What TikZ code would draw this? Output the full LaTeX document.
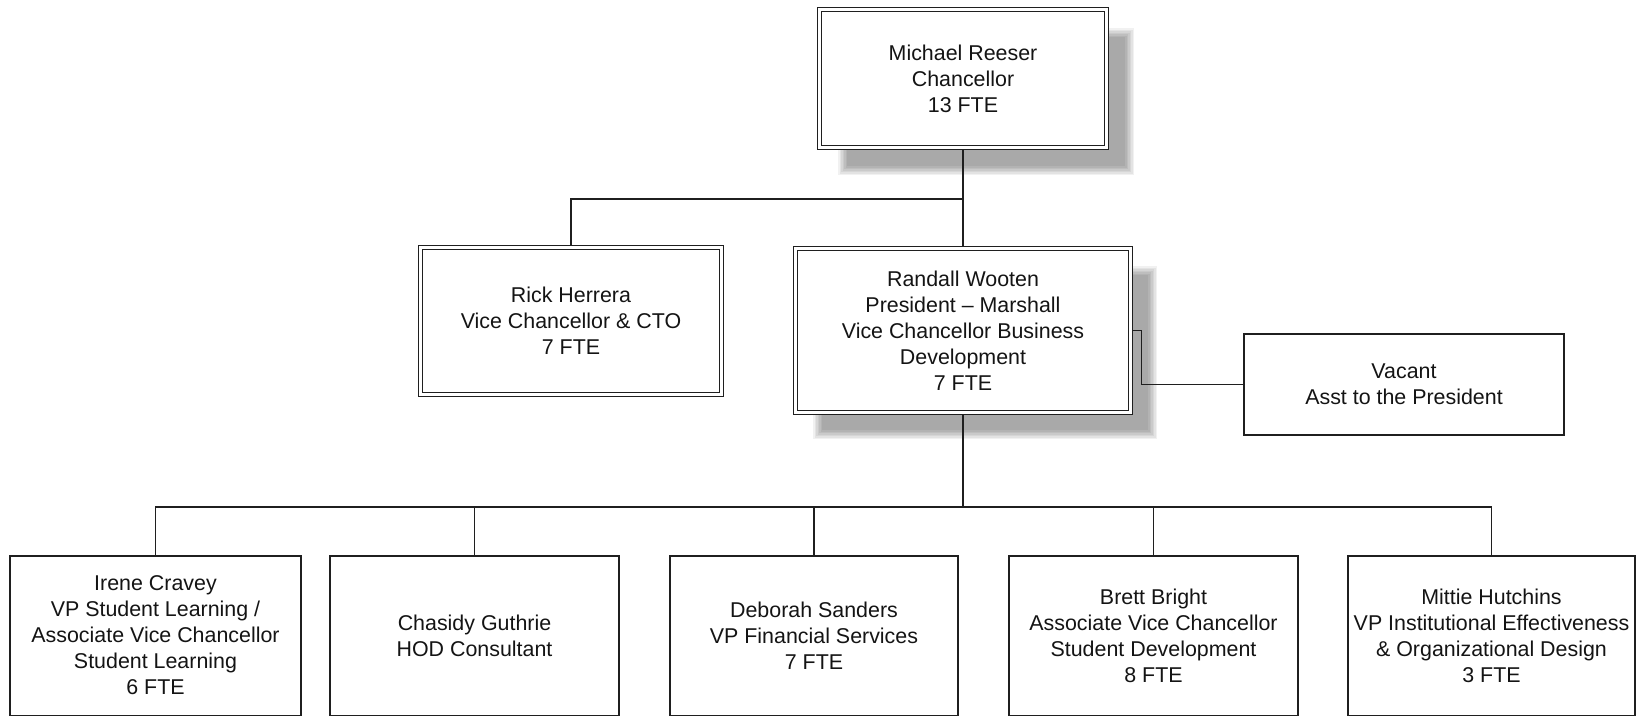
\documentclass[tikz,border=0pt]{standalone}
\usepackage{fontspec}
\setmainfont{Liberation Sans}
\usetikzlibrary{calc}
\pgfdeclarelayer{bg}
\pgfdeclarelayer{shad}
\pgfdeclarelayer{conn}
\pgfsetlayers{bg,shad,conn,main}
\begin{document}
\begin{tikzpicture}[x=1pt,y=-1pt,
  every node/.style={font=\fontsize{21.4}{26}\selectfont, align=center, inner sep=0pt, outer sep=0pt, text=black!92},
  dbox/.style={rectangle, draw=black!88, line width=1.4pt, double=white, double distance=2.6pt, fill=white},
  sbox/.style={rectangle, draw=black!88, line width=1.5pt, fill=white},
  conn/.style={draw=black!88, line width=1.5pt},
  softshadow/.style={black, opacity=0.055}]
\useasboundingbox (0,0) rectangle (1646,718);
\begin{pgfonlayer}{bg}
  \fill[white] (0,0) rectangle (1646,718);
\end{pgfonlayer}

% top level
\node[dbox, minimum width=287, minimum height=138] (top) at (963,78.5)
  {Michael Reeser\\Chancellor\\13 FTE};
% second level
\node[dbox, minimum width=301, minimum height=147] (rick) at (571,321)
  {Rick Herrera\\Vice Chancellor \& CTO\\7 FTE};
\node[dbox, minimum width=335, minimum height=164] (randall) at (963,330.5)
  {Randall Wooten\\President – Marshall\\Vice Chancellor Business\\Development\\7 FTE};
\node[sbox, minimum width=320, minimum height=101] (vacant) at (1404,384.5)
  {Vacant\\Asst to the President};
% third level
\node[sbox, minimum width=291, minimum height=159.5] (irene) at (155.5,635.5)
  {Irene Cravey\\VP Student Learning /\\Associate Vice Chancellor\\Student Learning\\6 FTE};
\node[sbox, minimum width=289, minimum height=159.5] (chasidy) at (474.5,635.5)
  {Chasidy Guthrie\\HOD Consultant};
\node[sbox, minimum width=288, minimum height=159.5] (deborah) at (814,635.5)
  {Deborah Sanders\\VP Financial Services\\7 FTE};
\node[sbox, minimum width=289, minimum height=159.5] (brett) at (1153.5,635.5)
  {Brett Bright\\Associate Vice Chancellor\\Student Development\\8 FTE};
\node[sbox, minimum width=287, minimum height=159.5] (mittie) at (1491.5,635.5)
  {Mittie Hutchins\\VP Institutional Effectiveness\\\& Organizational Design\\3 FTE};

% shadows
\begin{pgfonlayer}{shad}
  \foreach \b/\d in {top/23,randall/22}{
    \foreach \k in {0,...,6}{
      \fill[softshadow] ($(\b.south west)+({\d+(\k-3)*1.5},{\d-(\k-3)*1.5})$)
        rectangle ($(\b.north east)+({\d-(\k-3)*1.5},{\d+(\k-3)*1.5})$);
    }
  }
\end{pgfonlayer}

% connectors
\coordinate (bus1) at (0,199);
\coordinate (bus2) at (0,507);
\begin{pgfonlayer}{conn}
  \draw[conn] (top.south) -- (top.south |- bus1) -| (rick.north);
  \draw[conn] (top.south |- bus1) -- (randall.north);
  \draw[conn] (randall.east) -- ++(11,0) |- (vacant.west);
  \draw[conn] (randall.south) -- (randall.south |- bus2);
  \draw[conn] (irene.north) -- (irene.north |- bus2) -- (mittie.north |- bus2) -- (mittie.north);
  \foreach \n in {chasidy,deborah,brett}{
    \draw[conn] (\n.north) -- (\n.north |- bus2);
  }
\end{pgfonlayer}
\end{tikzpicture}
\end{document}
